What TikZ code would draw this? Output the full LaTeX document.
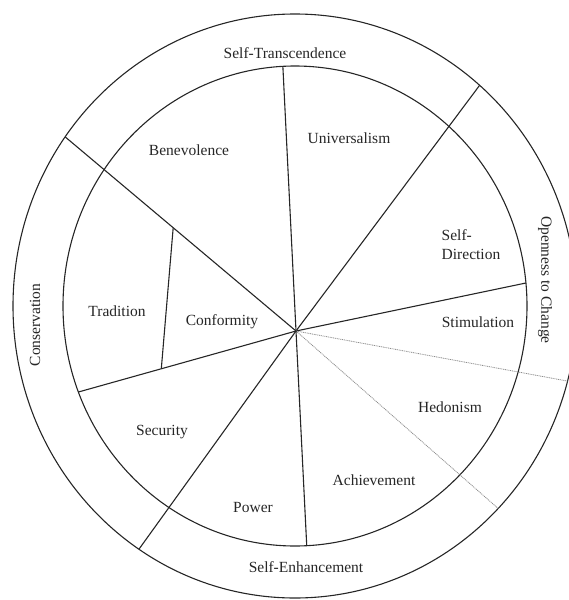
\documentclass[tikz,border=0pt]{standalone}
\usepackage{fontspec}
\setmainfont{Liberation Serif}
\usetikzlibrary{calc}
\begin{document}
\begin{tikzpicture}[x=1pt,y=-1pt,
  ring/.style={draw=black!85,line width=1.1pt},
  spoke/.style={draw=black!85,line width=1.1pt},
  faint/.style={draw=black!45,line width=0.8pt,dash pattern=on 1pt off 0.8pt},
  lbl/.style={font=\fontsize{15.5}{19}\selectfont,text=black!85,inner sep=0pt},
]
\useasboundingbox (0,0) rectangle (569,600);
\clip (0,0) rectangle (569,600);

% centre of the two rings and the hub where the spokes meet
\coordinate (C) at (295,306);
\coordinate (H) at (296,331);

% rings
\draw[ring] (C) ellipse [x radius=232pt, y radius=240pt];
\draw[ring] (C) ellipse [x radius=282pt, y radius=292pt];

% spoke end points (i = inner ring, o = outer ring)
\coordinate (i1) at ($(C)+(93:232pt and 240pt)$);
\coordinate (o2) at ($(C)+(49.1:282pt and 292pt)$);
\coordinate (i3) at ($(C)+(5.5:232pt and 240pt)$);
\coordinate (o4) at ($(C)+(-14.9:282pt and 292pt)$);
\coordinate (o5) at ($(C)+(-43.9:282pt and 292pt)$);
\coordinate (i6) at ($(C)+(-87.1:232pt and 240pt)$);
\coordinate (o7) at ($(C)+(-123.6:282pt and 292pt)$);
\coordinate (i8) at ($(C)+(-159:232pt and 240pt)$);
\coordinate (o9) at ($(C)+(144.6:282pt and 292pt)$);

\draw[spoke] (H) -- (i1);
\draw[spoke] (H) -- (o2);
\draw[spoke] (H) -- (i3);
\draw[faint] (H) -- (o4);
\draw[faint] (H) -- (o5);
\draw[spoke] (H) -- (i6);
\draw[spoke] (H) -- (o7);
\draw[spoke] (H) -- (i8);
\draw[spoke] (H) -- (o9);

% divider between Tradition and Conformity
\coordinate (dt) at ($(H)!0.532!(o9)$);
\coordinate (db) at ($(H)!0.619!(i8)$);
\draw[spoke] (dt) -- (db);

% value labels
\node[lbl] (benevolence) at (189,150) {Benevolence};
\node[lbl] (universalism) at (349,138) {Universalism};
\node[lbl,align=left] (selfdir) at (471,245) {Self-\\Direction};
\node[lbl] (stimulation) at (478,322) {Stimulation};
\node[lbl] (hedonism) at (450,407) {Hedonism};
\node[lbl] (achievement) at (374,480) {Achievement};
\node[lbl] (power) at (253,507) {Power};
\node[lbl] (security) at (162,432) {Security};
\node[lbl] (tradition) at (117,311) {Tradition};
\node[lbl] (conformity) at (222,322) {Conformity};

% higher-order labels in the outer ring
\node[lbl] (transcend) at (285,53) {Self-Transcendence};
\node[lbl] (enhance) at (306,567) {Self-Enhancement};
\node[lbl,rotate=-90] (openness) at (545,280) {Openness to Change};
\node[lbl,rotate=90] (conserve) at (35,325) {Conservation};
\end{tikzpicture}
\end{document}
